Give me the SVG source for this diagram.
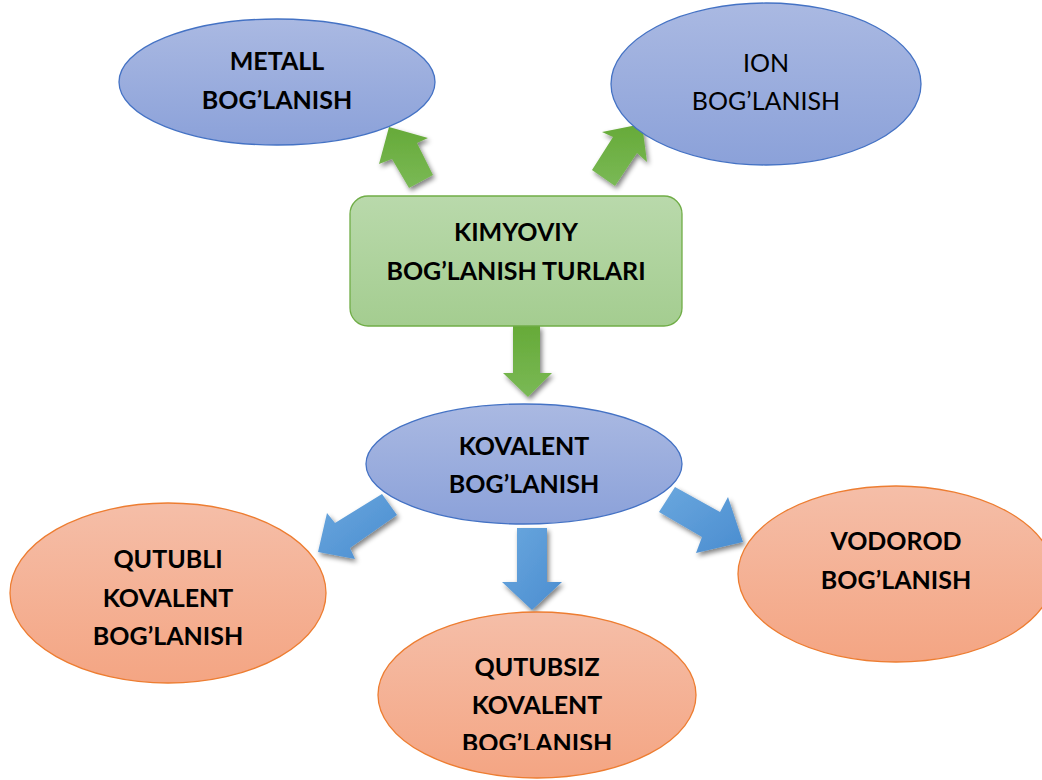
<svg xmlns="http://www.w3.org/2000/svg" width="1042" height="780" viewBox="0 0 1042 780">
<defs>
<linearGradient id="gBlue" x1="0" y1="0" x2="0" y2="1"><stop offset="0" stop-color="#aab9e2"/><stop offset="1" stop-color="#8ba1d9"/></linearGradient>
<linearGradient id="gGreen" x1="0" y1="0" x2="0" y2="1"><stop offset="0" stop-color="#b9d9ab"/><stop offset="1" stop-color="#a4cd90"/></linearGradient>
<linearGradient id="gOrange" x1="0" y1="0" x2="0" y2="1"><stop offset="0" stop-color="#f5bea8"/><stop offset="1" stop-color="#f4a583"/></linearGradient>
<linearGradient id="gArG" x1="0" y1="0" x2="0" y2="1"><stop offset="0" stop-color="#66aa38"/><stop offset="1" stop-color="#7ab956"/></linearGradient>
<linearGradient id="gArB" x1="0" y1="0" x2="1" y2="1"><stop offset="0" stop-color="#6aa7de"/><stop offset="1" stop-color="#4a8dd0"/></linearGradient>
<filter id="sh" x="-30%" y="-30%" width="160%" height="160%"><feGaussianBlur in="SourceAlpha" stdDeviation="2.5"/><feOffset dx="2" dy="3" result="b"/><feComponentTransfer><feFuncA type="linear" slope="0.5"/></feComponentTransfer><feMerge><feMergeNode/><feMergeNode in="SourceGraphic"/></feMerge></filter>
<clipPath id="clipQ"><rect x="370" y="600" width="340" height="150"/></clipPath>
</defs>
<style>
.blue{fill:url(#gBlue);stroke:#4472c4;stroke-width:1.3}
.green{fill:url(#gGreen);stroke:#70ad47;stroke-width:1.3}
.orange{fill:url(#gOrange);stroke:#ed7d31;stroke-width:1.3}
.t{font-family:Lato,"Liberation Sans",sans-serif;font-size:25px;font-weight:bold;fill:#000;text-anchor:middle}
.n{font-weight:normal}
.ag{fill:url(#gArG);filter:url(#sh)}
.ab{fill:url(#gArB);filter:url(#sh)}
</style>
<rect width="1042" height="780" fill="#fff"/>
<g id="connectors">
<polygon class="ag" points="389,127 428,138 417,143 433,175 409,188 392,159 379,164"/>
<polygon class="ag" points="642,124 647,162 637,153 615,186 592,170 613,137 602,132"/>
<polygon class="ag" points="513,326 540,326 540,373 552,373 528,397 503,373 513,373"/>
<polygon class="ab" points="382,494 397,515 350,548 355,559 318,552 327,513 335,523"/>
<polygon class="ab" points="517,528 547,528 547,582 562,582 532,610 502,582 517,582"/>
<polygon class="ab" points="675,487 720,512 728,497 743,542 696,553 702,537 659,512"/>
</g>
<g id="metall">
<ellipse class="blue" cx="277" cy="82" rx="158" ry="63"/>
<text class="t" x="277" y="70">METALL</text>
<text class="t" x="277" y="109">BOG’LANISH</text>
</g>
<g id="ion">
<ellipse class="blue" cx="766" cy="84" rx="155" ry="81"/>
<text class="t n" x="766" y="72">ION</text>
<text class="t n" x="766" y="110">BOG’LANISH</text>
</g>
<g id="kimyoviy">
<rect class="green" x="350" y="196" width="332" height="130" rx="18"/>
<text class="t" x="516" y="241">KIMYOVIY</text>
<text class="t" x="516" y="280">BOG’LANISH TURLARI</text>
</g>
<g id="kovalent">
<ellipse class="blue" cx="524" cy="464" rx="158" ry="60"/>
<text class="t" x="524" y="455">KOVALENT</text>
<text class="t" x="524" y="493">BOG’LANISH</text>
</g>
<g id="qutubli">
<ellipse class="orange" cx="168" cy="593" rx="158" ry="90"/>
<text class="t" x="168" y="568">QUTUBLI</text>
<text class="t" x="168" y="607">KOVALENT</text>
<text class="t" x="168" y="645">BOG’LANISH</text>
</g>
<g id="qutubsiz">
<ellipse class="orange" cx="537" cy="695" rx="159" ry="83"/>
<g clip-path="url(#clipQ)">
<text class="t" x="537" y="676">QUTUBSIZ</text>
<text class="t" x="537" y="714">KOVALENT</text>
<text class="t" x="537" y="752">BOG’LANISH</text>
</g>
</g>
<g id="vodorod">
<ellipse class="orange" cx="896" cy="574" rx="158" ry="88"/>
<text class="t" x="896" y="550">VODOROD</text>
<text class="t" x="896" y="589">BOG’LANISH</text>
</g>
</svg>
